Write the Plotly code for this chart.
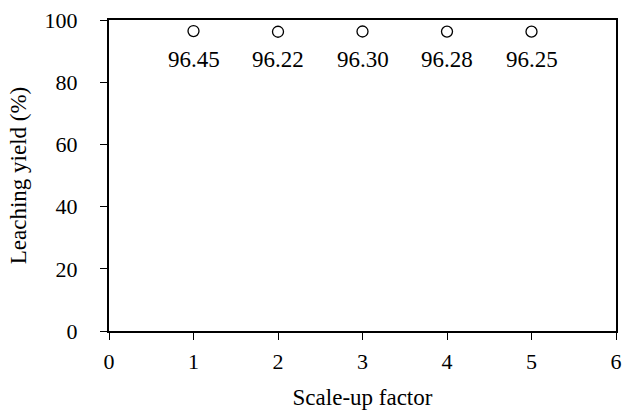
import plotly.graph_objects as go

scale_factor = [1, 2, 3, 4, 5]
leaching_yield = [96.45, 96.22, 96.30, 96.28, 96.25]
labels = ["96.45", "96.22", "96.30", "96.28", "96.25"]

FAM = "Liberation Serif"
tick_font = dict(family=FAM, size=22, color="black")
label_font = dict(family=FAM, size=23, color="black")
title_font = dict(family=FAM, size=23, color="black")

fig = go.Figure(go.Scatter(
    x=scale_factor, y=leaching_yield, mode="markers",
    marker=dict(symbol="circle-open", size=11, color="black", line=dict(width=1.3)),
    cliponaxis=False, showlegend=False,
))

for xv, yv, t in zip(scale_factor, leaching_yield, labels):
    fig.add_annotation(x=xv, y=yv, text=t, showarrow=False, yanchor="middle",
                       xanchor="center", yshift=-28, font=label_font)

axis_common = dict(showgrid=False, zeroline=False, showline=True, linecolor="black",
                   linewidth=2, mirror=True, ticks="outside", ticklen=7, tickwidth=1.3,
                   tickcolor="black", tickfont=tick_font, ticklabeloverflow="allow",
                   automargin=False)

fig.update_layout(
    width=626, height=413,
    margin=dict(l=109, r=10, t=20, b=82, autoexpand=False),
    paper_bgcolor="white", plot_bgcolor="white",
    font=dict(family=FAM, color="black"),
    xaxis=dict(range=[0, 6], dtick=1, ticklabelstandoff=3,
               title=dict(text="Scale-up factor", font=title_font, standoff=15), **axis_common),
    yaxis=dict(range=[0, 100], dtick=20, ticklabelstandoff=18,
               title=dict(text="Leaching yield (%)", font=title_font, standoff=12), **axis_common),
)

fig.write_html("out.html", config={"displayModeBar": False},
               post_script="document.body.style.margin='0';")
